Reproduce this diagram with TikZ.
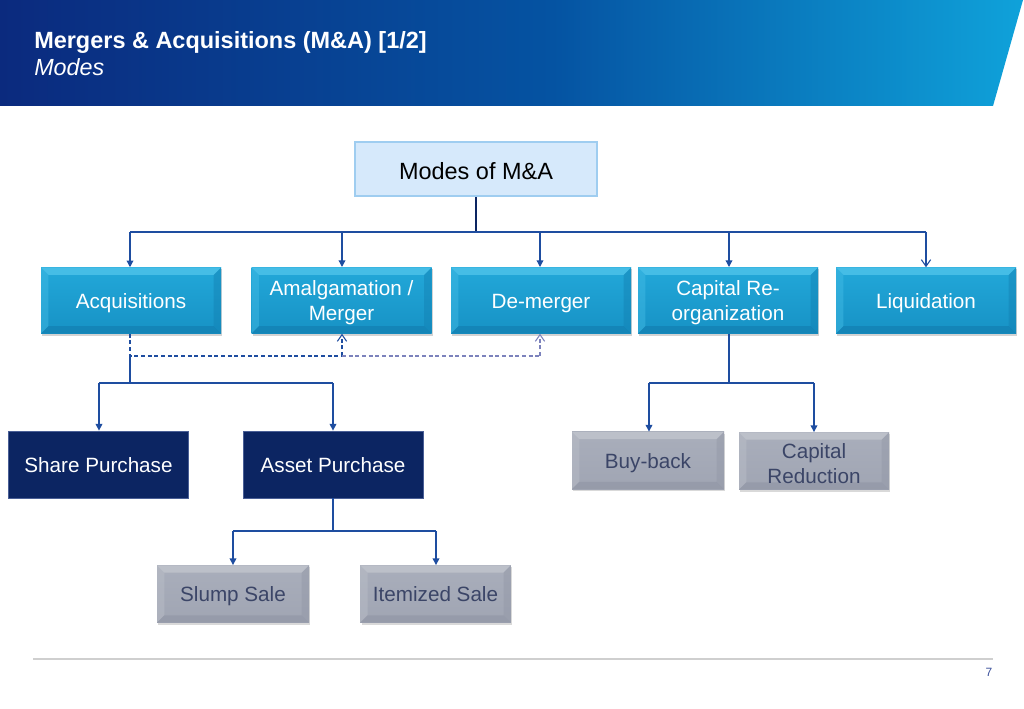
\documentclass[tikz,border=0pt]{standalone}
\usepackage{fontspec}
\setmainfont{Liberation Sans}
\usetikzlibrary{arrows.meta,shadows}
\definecolor{hdrA}{HTML}{0B2A7E}
\definecolor{hdrB}{HTML}{0553A2}
\definecolor{hdrC}{HTML}{0FA2DA}
\definecolor{cyantop}{HTML}{22A8D9}
\definecolor{cyanbot}{HTML}{1792C5}
\definecolor{cyanlt}{HTML}{45BDE6}
\definecolor{cyandk}{HTML}{1380B2}
\definecolor{graytop}{HTML}{A9AEBB}
\definecolor{graybot}{HTML}{A0A5B3}
\definecolor{graylt}{HTML}{BCC0C9}
\definecolor{graydk}{HTML}{9297A6}
\definecolor{graytext}{HTML}{3B4567}
\definecolor{navy}{HTML}{0C2562}
\definecolor{navyedge}{HTML}{4A5F96}
\definecolor{lnc}{HTML}{1E4DA0}
\definecolor{dashlt}{HTML}{7C82BC}
\definecolor{modesfill}{HTML}{D6E9FB}
\definecolor{modesedge}{HTML}{9FCDF0}
\definecolor{footline}{HTML}{CFCFCF}
\definecolor{pagenum}{HTML}{3A4F9A}
\pgfdeclarehorizontalshading{hdrshade}{100bp}{color(0bp)=(hdrA); color(25bp)=(hdrA); color(52bp)=(hdrB); color(75bp)=(hdrC); color(100bp)=(hdrC)}
\tikzset{
  bevel/.style 2 args={path picture={
    \fill[#1] (path picture bounding box.north west) -- (path picture bounding box.north east)
      -- ([shift={(-5.5pt,-5.5pt)}]path picture bounding box.north east) -- ([shift={(5.5pt,-5.5pt)}]path picture bounding box.north west) -- cycle;
    \fill[#1,opacity=0.45] (path picture bounding box.north west) -- ([shift={(5.5pt,-5.5pt)}]path picture bounding box.north west)
      -- ([shift={(5.5pt,5.5pt)}]path picture bounding box.south west) -- (path picture bounding box.south west) -- cycle;
    \fill[#2,opacity=0.7] (path picture bounding box.south west) -- (path picture bounding box.south east)
      -- ([shift={(-5.5pt,5.5pt)}]path picture bounding box.south east) -- ([shift={(5.5pt,5.5pt)}]path picture bounding box.south west) -- cycle;
    \fill[#2,opacity=0.45] (path picture bounding box.north east) -- ([shift={(-5.5pt,-5.5pt)}]path picture bounding box.north east)
      -- ([shift={(-5.5pt,5.5pt)}]path picture bounding box.south east) -- (path picture bounding box.south east) -- cycle;
  }},
  cyanbox/.style={top color=cyantop, bottom color=cyanbot, bevel={cyanlt}{cyandk},
    minimum width=135pt, minimum height=49.5pt, inner sep=0pt,
    drop shadow={opacity=0.35, shadow xshift=1pt, shadow yshift=-1.5pt}},
  navybox/.style={fill=navy, draw=navyedge, line width=0.6pt,
    minimum width=135pt, minimum height=50.25pt, inner sep=0pt},
  graybox/.style={top color=graytop, bottom color=graybot, bevel={graylt}{graydk},
    minimum width=114pt, minimum height=43pt, inner sep=0pt,
    drop shadow={opacity=0.3, shadow xshift=1pt, shadow yshift=-1.5pt}},
  btext/.style={align=center, inner sep=0pt, font=\fontsize{15.5}{18.75}\selectfont},
  wtext/.style={btext, text=white},
  gtext/.style={btext, text=graytext},
  one/.style={text height=11.4pt, text depth=3.3pt},
  ln/.style={draw=lnc, line width=1pt},
  arr/.style={ln, -{Triangle[length=5pt,width=5pt]}},
  openarr/.style={ln, -{Straight Barb[length=5pt,width=7pt,line width=0.8pt]}},
  dsh/.style={draw=lnc, line width=1pt, dash pattern=on 3pt off 2pt},
}
\begin{document}
\begin{tikzpicture}[x=0.75pt,y=-0.75pt]
\useasboundingbox (0,0) rectangle (1024,709);
% header
\shade[shading=hdrshade] (0,0) -- (1023,0) -- (993,106) -- (0,106) -- cycle;
\node[anchor=base west, text=white, inner sep=0pt, font=\bfseries\fontsize{17.6}{20}\selectfont] (title) at (34,49) {Mergers \& Acquisitions (M\&A) [1/2]};
\node[anchor=base west, text=white, inner sep=0pt, font=\itshape\fontsize{17.5}{20}\selectfont] (subtitle) at (34,76) {Modes};

% top node
\node[fill=modesfill, draw=modesedge, line width=1.5pt, minimum width=182pt, minimum height=40.5pt, inner sep=0pt] (modes) at (476,169.5) {};
\node[inner sep=0pt, font=\fontsize{17.6}{20}\selectfont] (modes-t) at (476,171) {Modes of M\&A};

% row 1
\node[cyanbox] (acq)  at (131,300.5) {};
\node[cyanbox] (amal) at (341.5,300.5) {};
\node[cyanbox] (dem)  at (541,300.5) {};
\node[cyanbox] (capr) at (728,300.5) {};
\node[cyanbox] (liq)  at (926,300.5) {};
\node[wtext, one] (acq-t)  at (131,303) {Acquisitions};
\node[wtext] (amal-t) at (341.5,303) {Amalgamation /\\Merger};
\node[wtext, one] (dem-t)  at (541,303) {De-merger};
\node[wtext] (capr-t) at (728,303) {Capital Re-\\organization};
\node[wtext, one] (liq-t)  at (926,303) {Liquidation};

% row 2
\node[navybox] (share) at (98.5,464.5) {};
\node[navybox] (asset) at (333,464.5) {};
\node[wtext, one] (share-t) at (98.5,467) {Share Purchase};
\node[wtext, one] (asset-t) at (333,467) {Asset Purchase};
\node[graybox] (buy) at (648,460.5) {};
\node[graybox, minimum width=112.5pt] (cred) at (814,461) {};
\node[gtext, one] (buy-t) at (648,463) {Buy-back};
\node[gtext] (cred-t) at (814,463.5) {Capital\\Reduction};

% row 3
\node[graybox] (slump) at (233,594) {};
\node[graybox, minimum width=113pt] (item) at (435.5,594) {};
\node[gtext, one] (slump-t) at (233,596.5) {Slump Sale};
\node[gtext, one] (item-t) at (435.5,596.5) {Itemized Sale};

% connectors from Modes
\coordinate (hb) at (476,232);
\coordinate (hl) at (130,232);
\coordinate (hr) at (926,232);
\draw[draw=navy, line width=1.3pt] (modes.south) -- (hb);
\draw[ln] (hl) -- (hr);
\draw[arr] (hl) -- (hl |- acq.north);
\draw[arr] (342,232) -- (342,267);
\draw[arr] (540,232) -- (540,267);
\draw[arr] (729,232) -- (729,267);
\draw[openarr] (hr) -- (hr |- liq.north);

% dashed relations
\coordinate (d0) at (130,356);
\coordinate (d1) at (342,356);
\coordinate (d2) at (540,356);
\draw[dsh] (acq.south -| d0) -- (d0) -- (d1);
\draw[dsh, -{Straight Barb[length=5pt,width=7pt,line width=0.8pt]}] (d1) -- (d1 |- amal.south);
\draw[dsh, draw=dashlt] (d1) -- (d2);
\draw[dsh, draw=dashlt, -{Straight Barb[length=5pt,width=7pt,line width=0.8pt]}] (d2) -- (d2 |- dem.south);

% acquisitions branch
\coordinate (a0) at (130,383);
\coordinate (a1) at (99,383);
\coordinate (a2) at (333,383);
\draw[ln] (d0) -- (a0);
\draw[ln] (a1) -- (a2);
\draw[arr] (a1) -- (a1 |- share.north);
\draw[arr] (a2) -- (a2 |- asset.north);

% capital re-organization branch
\coordinate (c0) at (729,383);
\coordinate (c1) at (649,383);
\coordinate (c2) at (814,383);
\draw[ln] (capr.south -| c0) -- (c0);
\draw[ln] (c1) -- (c2);
\draw[arr] (c1) -- (c1 |- buy.north);
\draw[arr] (c2) -- (c2 |- cred.north);

% asset purchase branch
\coordinate (s0) at (333,531);
\coordinate (s1) at (233,531);
\coordinate (s2) at (436,531);
\draw[ln] (asset.south) -- (s0);
\draw[ln] (s1) -- (s2);
\draw[arr] (s1) -- (s1 |- slump.north);
\draw[arr] (s2) -- (s2 |- item.north);

% footer
\coordinate (f1) at (33,659);
\coordinate (f2) at (993,659);
\draw[draw=footline, line width=1pt] (f1) -- (f2);
\node[text=pagenum, font=\fontsize{9}{11}\selectfont, inner sep=0pt] (pg) at (989,672) {7};
\end{tikzpicture}
\end{document}
